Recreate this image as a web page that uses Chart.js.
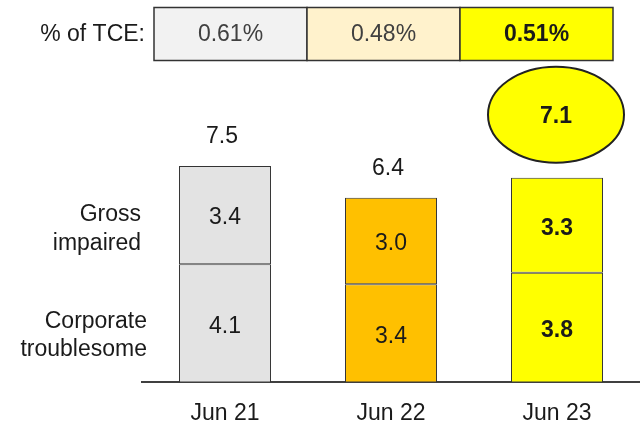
<!DOCTYPE html>
<html lang="en">
<head>
    <meta charset="UTF-8">
    <title>Troublesome and impaired</title>
    <style>
        body { margin: 0; background: #fff; }
    </style>
</head>
<body>
<canvas id="myChart" width="640" height="427"></canvas>
<script src="https://cdn.jsdelivr.net/npm/chart.js@4.4.1/dist/chart.umd.min.js"></script>
<script>
    // data
    let periods = ['Jun 21', 'Jun 22', 'Jun 23'];
    let corporateTroublesome = [4.1, 3.4, 3.8];
    let grossImpaired = [3.4, 3.0, 3.3];
    let tcePct = ['0.61%', '0.48%', '0.51%'];
    let highlight = [false, false, true];

    let barColors = ['#e3e3e3', '#ffc000', '#ffff00'];
    let boxColors = ['#f2f2f2', '#fff2cc', '#ffff00'];
    let fontFamily = '"Liberation Sans", Arial, sans-serif';
    let textColor = '#1a1a1a';
    let fontSize = 23;

    let overlay = {
        id: 'overlay',
        afterDatasetsDraw(chart) {
            let ctx = chart.ctx;
            ctx.save();
            ctx.textAlign = 'center';
            ctx.textBaseline = 'middle';
            ctx.fillStyle = textColor;

            // values inside segments
            chart.data.datasets.forEach((ds, di) => {
                chart.getDatasetMeta(di).data.forEach((bar, i) => {
                    ctx.font = (highlight[i] ? 'bold ' : '') + fontSize + 'px ' + fontFamily;
                    ctx.fillText(ds.data[i].toFixed(1), bar.x, (bar.y + bar.base) / 2 + 3);
                });
            });

            // totals above bars
            let topBars = chart.getDatasetMeta(chart.data.datasets.length - 1).data;
            topBars.forEach((bar, i) => {
                let total = corporateTroublesome[i] + grossImpaired[i];
                if (highlight[i]) {
                    let cx = bar.x - 1, cy = bar.y - 63;
                    ctx.beginPath();
                    ctx.ellipse(cx, cy, 68, 48, 0, 0, Math.PI * 2);
                    ctx.fillStyle = '#ffff00';
                    ctx.fill();
                    ctx.lineWidth = 2;
                    ctx.strokeStyle = '#222';
                    ctx.stroke();
                    ctx.fillStyle = textColor;
                    ctx.font = 'bold ' + fontSize + 'px ' + fontFamily;
                    ctx.fillText(total.toFixed(1), cx, cy + 2);
                } else {
                    ctx.font = fontSize + 'px ' + fontFamily;
                    ctx.fillText(total.toFixed(1), bar.x - 3, bar.y - 29);
                }
            });

            // % of TCE row
            ctx.font = fontSize + 'px ' + fontFamily;
            ctx.textAlign = 'right';
            ctx.fillText('% of TCE:', 145, 35);
            let boxW = 153;
            tcePct.forEach((v, i) => {
                let x = 154 + i * boxW;
                ctx.fillStyle = boxColors[i];
                ctx.fillRect(x, 7.5, boxW, 53);
                ctx.lineWidth = 1.5;
                ctx.strokeStyle = '#333';
                ctx.strokeRect(x, 7.5, boxW, 53);
                ctx.textAlign = 'center';
                ctx.fillStyle = highlight[i] ? textColor : '#404040';
                ctx.font = (highlight[i] ? 'bold ' : '') + fontSize + 'px ' + fontFamily;
                ctx.fillText(v, x + boxW / 2, 35);
            });

            // series names on the left
            ctx.textAlign = 'right';
            ctx.fillStyle = textColor;
            ctx.font = fontSize + 'px ' + fontFamily;
            ctx.fillText('Gross', 141, 215);
            ctx.fillText('impaired', 141, 244);
            ctx.fillText('Corporate', 147, 322);
            ctx.fillText('troublesome', 147, 350);
            ctx.restore();
        }
    };

    let barStyle = {
        backgroundColor: barColors,
        borderColor: '#333',
        borderWidth: 1,
        borderSkipped: false,
        categoryPercentage: 1,
        barPercentage: 0.554
    };

    let ctx = document.getElementById('myChart').getContext('2d');
    new Chart(ctx, {
        type: 'bar',
        data: {
            labels: periods,
            datasets: [
                Object.assign({label: 'Corporate troublesome', data: corporateTroublesome}, barStyle),
                Object.assign({label: 'Gross impaired', data: grossImpaired}, barStyle)
            ]
        },
        options: {
            responsive: false,
            animation: false,
            layout: {
                padding: {left: 142, right: 0, top: 94, bottom: -17}
            },
            plugins: {
                legend: {display: false},
                tooltip: {enabled: false}
            },
            scales: {
                x: {
                    stacked: true,
                    grid: {display: false, drawTicks: false},
                    border: {display: true, color: '#404040', width: 2},
                    ticks: {
                        color: textColor,
                        padding: 17,
                        font: {size: fontSize, family: fontFamily}
                    }
                },
                y: {
                    stacked: true,
                    display: false,
                    min: 0,
                    max: 10
                }
            }
        },
        plugins: [overlay]
    });
</script>
</body>
</html>
